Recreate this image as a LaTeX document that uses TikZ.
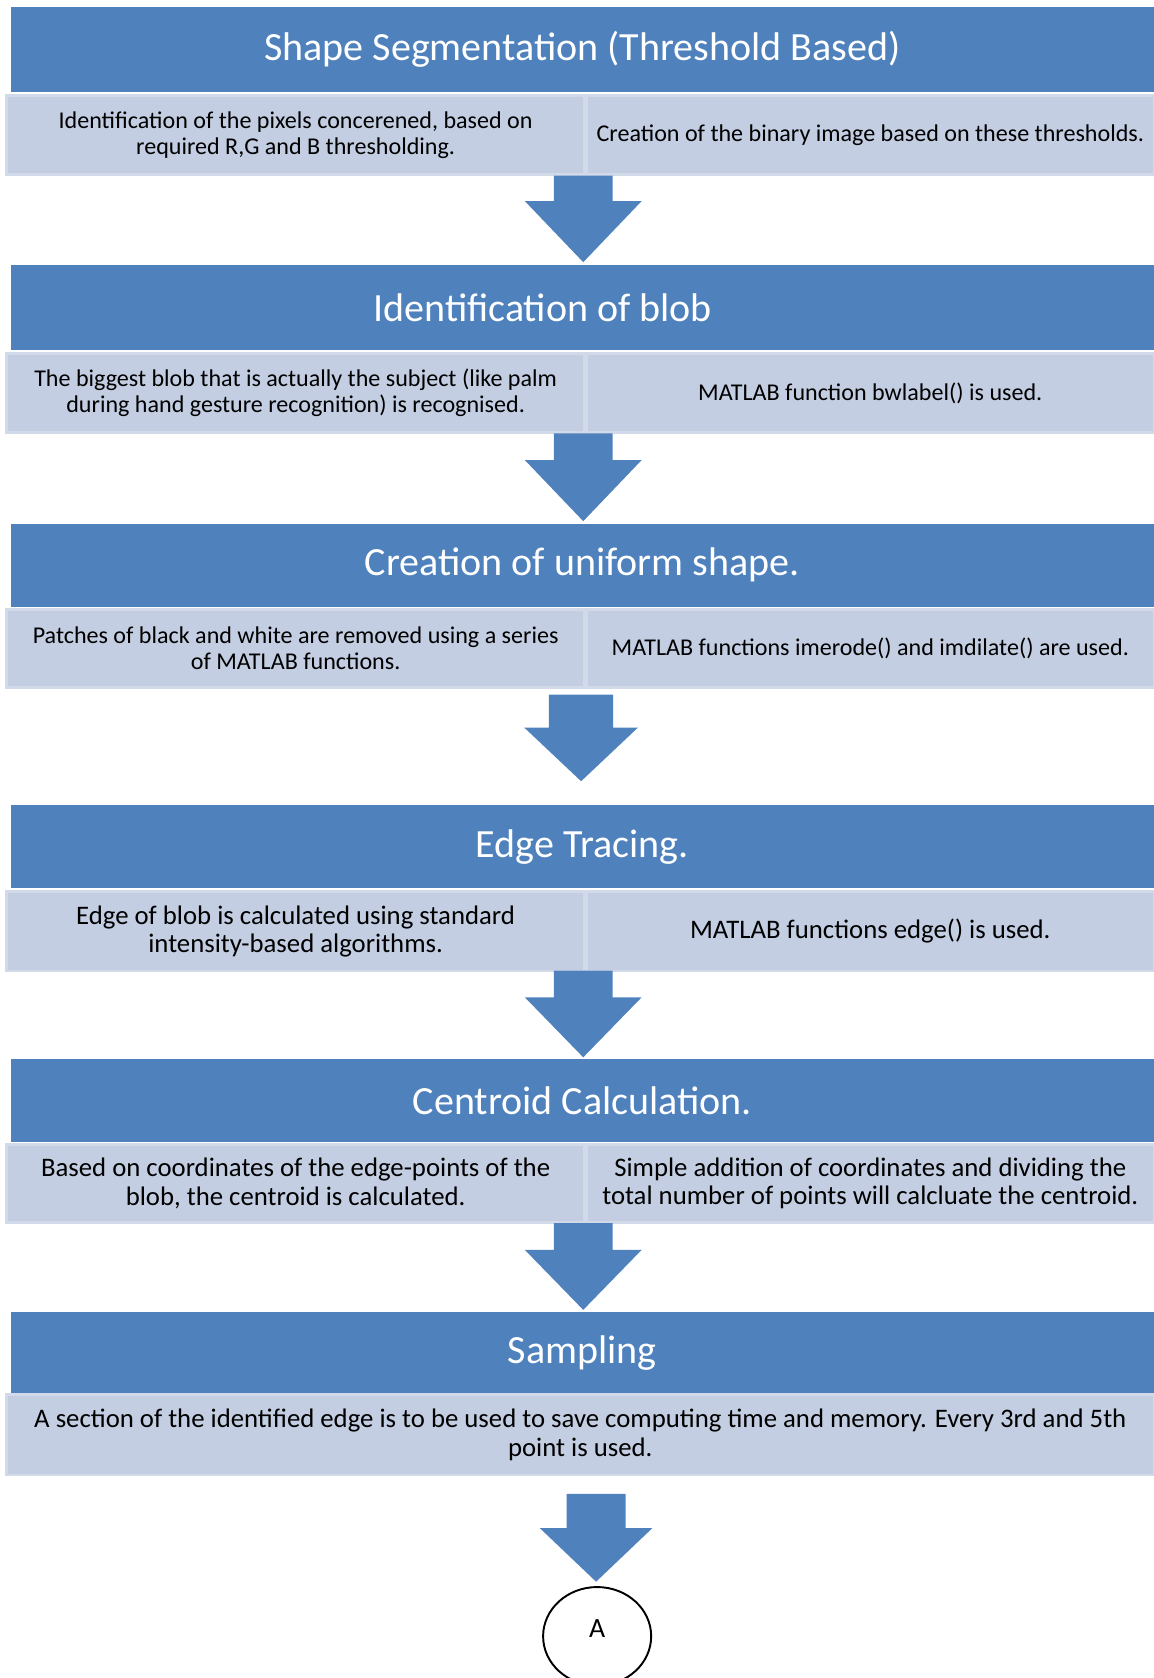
\documentclass[tikz,border=0pt]{standalone}
\usepackage{fontspec}
\setmainfont{Carlito}
\usetikzlibrary{shapes.geometric,calc}
\definecolor{hdrblue}{HTML}{4F81BD}
\definecolor{subfill}{HTML}{C3CEE2}
\definecolor{subedge}{HTML}{D2DAEA}
\tikzset{
  hdr/.style={fill=hdrblue, draw=none, text=white, minimum height=80pt, minimum width=1068pt, anchor=north west, inner sep=0pt, font=\fontsize{37.4}{40}\selectfont},
  subbox/.style={fill=subfill, draw=subedge, line width=2.5pt, anchor=north west, inner sep=0pt, align=center, text=black},
  subA/.style={subbox, font=\fontsize{22.5}{24}\selectfont},
  subB/.style={subbox, font=\fontsize{25}{26.5}\selectfont},
  blockarrow/.style={fill=hdrblue, draw=none},
  connector/.style={draw=black, line width=1.8pt, fill=white, ellipse, inner sep=0pt}
}
% #1 name, #2 centre x, #3 top y, #4 head start y, #5 tip y, #6 shaft half width, #7 head half width
\newcommand\mydownarrow[7]{%
  \coordinate (#1) at (#2,#5);
  \fill[blockarrow] (#2-#6,#3) -- (#2+#6,#3) -- (#2+#6,#4) -- (#2+#7,#4) -- (#1) -- (#2-#7,#4) -- (#2-#6,#4) -- cycle;
}
\begin{document}
\begin{tikzpicture}[x=1pt,y=-1pt]
\useasboundingbox (0,0) rectangle (1078,1568);
% Block 1
\node[hdr] (h1) at (10,6) {Shape Segmentation (Threshold Based)};
\node[subA, minimum width=540pt, minimum height=74pt] (s1l) at (5,88) {Identification of the pixels concerened, based on\\required R,G and B thresholding.};
\node[subA, minimum width=530pt, minimum height=74pt] (s1r) at (547,88) {Creation of the binary image based on these thresholds.};
% Block 2
\node[hdr] (h2) at (10,247) {\hspace*{-74pt}Identification of blob};
\node[subA, minimum width=540pt, minimum height=74pt] (s2l) at (5,329) {The biggest blob that is actually the subject (like palm\\during hand gesture recognition) is recognised.};
\node[subA, minimum width=530pt, minimum height=74pt] (s2r) at (547,329) {MATLAB function bwlabel() is used.};
% Block 3
\node[hdr, minimum height=78pt] (h3) at (10,489) {Creation of uniform shape.};
\node[subA, minimum width=540pt, minimum height=73pt] (s3l) at (5,568) {Patches of black and white are removed using a series\\of MATLAB functions.};
\node[subA, minimum width=530pt, minimum height=73pt] (s3r) at (547,568) {MATLAB functions imerode() and imdilate() are used.};
% Block 4
\node[hdr, minimum height=78pt] (h4) at (10,752) {Edge Tracing.};
\node[subB, minimum width=540pt, minimum height=74pt] (s4l) at (5,832) {Edge of blob is calculated using standard\\intensity-based algorithms.};
\node[subB, minimum width=530pt, minimum height=74pt] (s4r) at (547,832) {MATLAB functions edge() is used.};
% Block 5
\node[hdr, minimum height=78pt] (h5) at (10,989) {Centroid Calculation.};
\node[subB, minimum width=540pt, minimum height=73pt] (s5l) at (5,1068) {Based on coordinates of the edge-points of the\\blob, the centroid is calculated.};
\node[subB, minimum width=530pt, minimum height=73pt] (s5r) at (547,1068) {Simple addition of coordinates and dividing the\\total number of points will calcluate the centroid.};
% Block 6
\node[hdr, minimum height=76pt] (h6) at (10,1226) {Sampling};
\node[subB, minimum width=1072pt, minimum height=75pt] (s6) at (5,1302) {A section of the identified edge is to be used to save computing time and memory. Every 3rd and 5th\\point is used.};
% Block arrows
\mydownarrow{a1}{545}{164}{188}{245}{27.5}{54.5}
\mydownarrow{a2}{545}{405}{430}{487}{27.5}{54.5}
\mydownarrow{a3}{543}{649}{680}{730}{30}{53}
\mydownarrow{a4}{545}{907}{932}{988}{27.5}{54.5}
\mydownarrow{a5}{545}{1143}{1168}{1224}{27.5}{54.5}
\mydownarrow{a6}{557}{1396}{1428}{1478}{27.5}{52.5}
% Connector circle
\node[connector, minimum width=101pt, minimum height=92pt] (A) at (558,1529) {};
\node[font=\fontsize{26}{28}\selectfont, inner sep=0pt] (Alabel) at (558,1522) {A};
\end{tikzpicture}
\end{document}
